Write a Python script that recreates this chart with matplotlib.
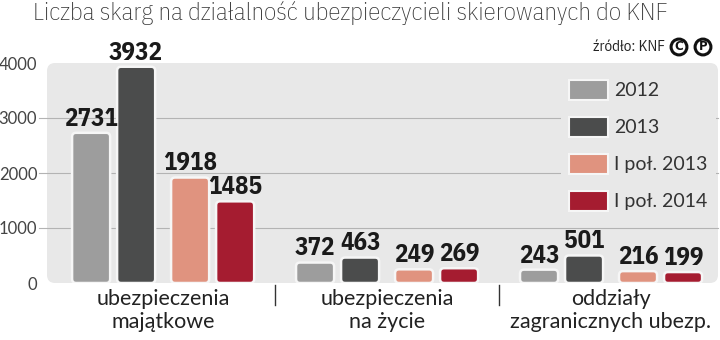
import numpy as np
import matplotlib.pyplot as plt
from matplotlib.patches import FancyBboxPatch, Rectangle
from matplotlib.transforms import blended_transform_factory

# data
categories = ['ubezpieczenia\nmajątkowe', 'ubezpieczenia\nna życie', 'oddziały\nzagranicznych ubezp.']
series_names = ['2012', '2013', 'I poł. 2013', 'I poł. 2014']
v2012 = [2731, 372, 243]
v2013 = [3932, 463, 501]
v2013h1 = [1918, 249, 216]
v2014h1 = [1485, 269, 199]
yticks = [0, 1000, 2000, 3000, 4000]

colors = ['#9d9d9d', '#4b4c4c', '#e0937f', '#a51c30']
panel_col = '#e8e8e8'
narrow = ['IBM Plex Sans Condensed', 'DejaVu Sans']
light = ['Lato', 'DejaVu Sans']

W, H = 720, 340
fig = plt.figure(figsize=(7.2, 3.4), dpi=100)
ax_l, ax_r, ax_t, ax_b = 47, 718, 63, 283
ax = fig.add_axes([ax_l / W, 1 - ax_b / H, (ax_r - ax_l) / W, (ax_b - ax_t) / H])
ax.patch.set_visible(False)
for s in ax.spines.values():
    s.set_visible(False)

xlim = (-0.518, 2.478)
ax.set_xlim(*xlim)
ax.set_ylim(0, 4000)

# panel background with rounded corners
pw, ph = ax_r - ax_l, ax_b - ax_t
panel = FancyBboxPatch((0, 0), 1, 1, boxstyle='round,pad=0,rounding_size=0.012',
                       mutation_aspect=pw / ph, transform=ax.transAxes,
                       facecolor=panel_col, edgecolor='none', zorder=0, clip_on=False)
ax.add_patch(panel)

# grid lines
for y in yticks[1:-1]:
    ax.axhline(y, xmin=-0.012, xmax=1, color='#b3b3b3', lw=0.8, zorder=1, clip_on=False)

# bars
x = np.arange(len(categories))
offsets = [-0.321, -0.12, 0.121, 0.322]
bw = 0.17
px_x = pw / (xlim[1] - xlim[0])
px_y = ph / 4000
aspect = px_x / px_y
rnd = 4 / px_x
all_vals = [v2012, v2013, v2013h1, v2014h1]
for vals, off, col, name in zip(all_vals, offsets, colors, series_names):
    bars = ax.bar(x + off, vals, width=bw, color='none', edgecolor='none', label='_nolegend_')
    for b, v in zip(bars, vals):
        fb = FancyBboxPatch((b.get_x(), b.get_y()), b.get_width(), b.get_height(),
                            boxstyle='round,pad=0,rounding_size=%f' % rnd,
                            mutation_aspect=aspect, facecolor=col,
                            edgecolor='#f6f6f6', lw=1.8, zorder=3)
        ax.add_patch(fb)
        ax.annotate(str(v), (b.get_x() + b.get_width() / 2, v), xytext=(0, 1.5),
                    textcoords='offset points', ha='center', va='bottom',
                    fontsize=18, fontweight='bold', family=narrow,
                    color='#1a1a1a', zorder=4, annotation_clip=False)

# axes ticks
ax.set_yticks(yticks)
ax.set_yticklabels([str(t) for t in yticks], family=light, fontsize=12, color='#444444')
ax.tick_params(axis='y', length=0, pad=7)
ax.set_xticks(x)
ax.set_xticklabels(categories, family=light, fontsize=15.5, color='#222222', linespacing=1.2)
ax.tick_params(axis='x', length=0, pad=4)

# separators between groups
tr = blended_transform_factory(ax.transData, ax.transAxes)
for sx in [0.5, 1.5]:
    ax.plot([sx, sx], [-0.01, -0.1], color='#333333', lw=1, transform=tr, clip_on=False)

# legend
handles = [Rectangle((0, 0), 1, 1, facecolor=c, edgecolor='#f6f6f6', lw=1.5) for c in colors]
leg = ax.legend(handles, series_names, loc='upper left',
                bbox_to_anchor=(561 / W, 1 - 72 / H), bbox_transform=fig.transFigure,
                prop={'family': light, 'size': 14}, handlelength=2.0, handleheight=1.2,
                handletextpad=0.35, labelspacing=0.88, borderpad=0.4, borderaxespad=0,
                frameon=True, fancybox=False, facecolor=panel_col, edgecolor='none',
                framealpha=1)
for t in leg.get_texts():
    t.set_color('#333333')
leg.set_zorder(5)

# title and source
fig.text(33 / W, 1 - 13 / H, 'Liczba skarg na działalność ubezpieczycieli skierowanych do KNF',
         family=narrow, fontsize=18, fontweight='light', color='#333333', va='center', ha='left')
fig.text(665 / W, 1 - 47 / H, 'źródło: KNF', family=narrow, fontsize=11,
         color='#222222', va='center', ha='right')
for cx, ch in [(679, 'C'), (703, 'P')]:
    fig.text(cx / W, 1 - 47 / H, ch, family=['DejaVu Sans'], fontsize=8.5, fontweight='bold',
             ha='center', va='center', color='#111111',
             bbox=dict(boxstyle='circle,pad=0.12', facecolor='white', edgecolor='#111111', lw=2.2))

fig.savefig('out.png', dpi=100)
